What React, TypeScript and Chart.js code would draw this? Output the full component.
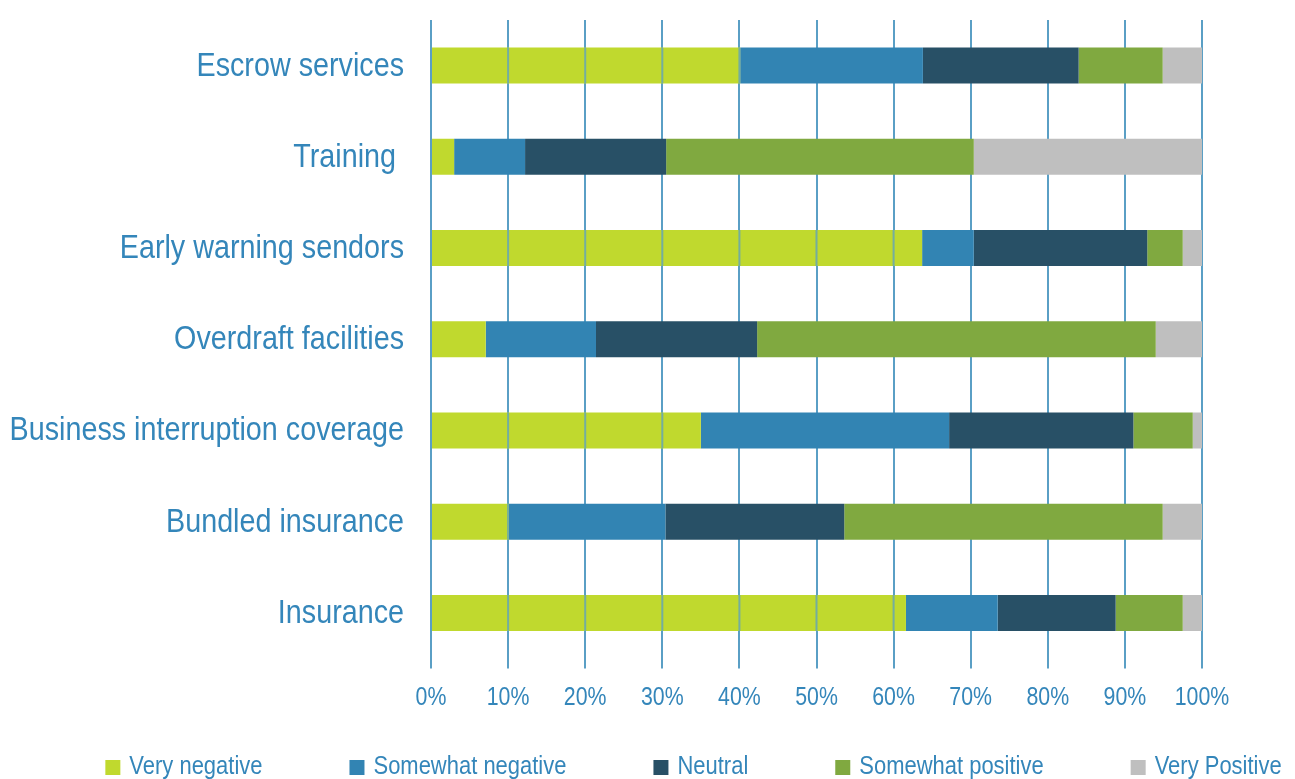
import React, { useEffect, useRef } from "react";
import { Chart, registerables } from "chart.js";

Chart.register(...registerables);

const categories = [
  "Escrow services",
  "Training ",
  "Early warning sendors",
  "Overdraft facilities",
  "Business interruption coverage",
  "Bundled insurance",
  "Insurance",
];
const seriesNames = ["Very negative", "Somewhat negative", "Neutral", "Somewhat positive", "Very Positive"];
const veryNegative = [40.1, 3.0, 63.7, 7.1, 35.0, 10.1, 61.6];
const somewhatNegative = [23.7, 9.2, 6.7, 14.3, 32.2, 20.3, 11.9];
const neutral = [20.2, 18.3, 22.5, 20.9, 23.9, 23.2, 15.3];
const somewhatPositive = [10.9, 39.9, 4.6, 51.7, 7.7, 41.3, 8.7];
const veryPositive = [5.1, 29.6, 2.5, 6.0, 1.2, 5.1, 2.5];
const xTicks = [0, 10, 20, 30, 40, 50, 60, 70, 80, 90, 100];
const xTickLabels = ["0%", "10%", "20%", "30%", "40%", "50%", "60%", "70%", "80%", "90%", "100%"];

const colors = ["#C0D92E", "#3284B3", "#285066", "#80A940", "#BFBFBF"];
const textColor = "#3486BA";
const gridColor = "#5A9FC5";
const BASE_FONT = "'Liberation Sans', Arial, sans-serif";

// Arial-Narrow-like text: Liberation Sans compressed horizontally
function narrowText(ctx: any, text: string, x: number, y: number, size: number, align: string, sx: number) {
  ctx.save();
  ctx.font = `${size}px ${BASE_FONT}`;
  ctx.fillStyle = textColor;
  ctx.textAlign = align;
  ctx.textBaseline = "alphabetic";
  ctx.translate(x, y);
  ctx.scale(sx, 1);
  ctx.fillText(text, 0, 0);
  ctx.restore();
}
function narrowWidth(ctx: any, text: string, size: number, sx: number) {
  ctx.save();
  ctx.font = `${size}px ${BASE_FONT}`;
  const w = ctx.measureText(text).width * sx;
  ctx.restore();
  return w;
}

const limeGridPlugin = {
  id: "limeGrid",
  afterDatasetsDraw(chart: any) {
    const meta = chart.getDatasetMeta(0);
    const xs = chart.scales.x;
    const ctx = chart.ctx;
    meta.data.forEach((bar: any) => {
      const { x, y, base, height } = bar.getProps(["x", "y", "base", "height"], true);
      const left = Math.min(x, base);
      const right = Math.max(x, base);
      ctx.save();
      ctx.beginPath();
      ctx.rect(left, y - height / 2, right - left, height);
      ctx.clip();
      ctx.strokeStyle = "rgba(90,159,197,0.75)";
      ctx.lineWidth = 2;
      xTicks.forEach((t) => {
        const px = xs.getPixelForValue(t);
        ctx.beginPath();
        ctx.moveTo(px, y - height / 2);
        ctx.lineTo(px, y + height / 2);
        ctx.stroke();
      });
      ctx.restore();
    });
  },
};

const labelsPlugin = {
  id: "narrowLabels",
  afterDraw(chart: any) {
    const ctx = chart.ctx;
    const ys = chart.scales.y;
    const xs = chart.scales.x;
    // category labels
    chart.data.labels.forEach((lab: string, i: number) => {
      const py = ys.getPixelForTick(i);
      narrowText(ctx, lab, chart.chartArea.left - 27, py + 10, 34, "right", 0.845);
    });
    // x tick labels
    xTicks.forEach((v, i) => {
      const px = xs.getPixelForValue(v);
      narrowText(ctx, xTickLabels[i], px, 705, 26, "center", 0.82);
    });
    // legend
    const size = 26;
    const sx = 0.845;
    const box = 15;
    const gapBoxText = 9;
    const gap = 87;
    const baseY = 774;
    const items = chart.data.datasets.map((d: any) => ({
      label: d.label,
      color: d.backgroundColor,
      w: box + gapBoxText + narrowWidth(ctx, d.label, size, sx),
    }));
    const total = items.reduce((s: number, it: any) => s + it.w, 0) + gap * (items.length - 1);
    let x = chart.width / 2 - total / 2 + 46;
    items.forEach((it: any) => {
      ctx.save();
      ctx.fillStyle = it.color;
      ctx.fillRect(x, 760, box, box);
      ctx.restore();
      narrowText(ctx, it.label, x + box + gapBoxText, baseY, size, "left", sx);
      x += it.w + gap;
    });
  },
};

export default function App() {
  const ref = useRef<HTMLCanvasElement | null>(null);
  useEffect(() => {
    document.body.style.margin = "0";
    if (!ref.current) return;
    const seriesData = [veryNegative, somewhatNegative, neutral, somewhatPositive, veryPositive];
    const chart = new Chart(ref.current, {
      type: "bar",
      data: {
        labels: categories,
        datasets: seriesNames.map((name, i) => ({
          label: name,
          data: seriesData[i],
          backgroundColor: colors[i],
          borderWidth: 0,
          categoryPercentage: 1,
          barPercentage: 0.395,
        })),
      },
      options: {
        indexAxis: "y",
        animation: false,
        responsive: false,
        devicePixelRatio: 1,
        layout: { padding: { top: 20, bottom: 60.5, left: 0, right: 93 } },
        plugins: { legend: { display: false }, tooltip: { enabled: false } },
        scales: {
          x: {
            stacked: true,
            min: 0,
            max: 100,
            afterBuildTicks: (scale: any) => {
              scale.ticks = xTicks.map((v) => ({ value: v }));
            },
            afterFit: (scale: any) => {
              scale.height = 60;
              scale.paddingLeft = 0;
              scale.paddingRight = 0;
            },
            grid: { color: gridColor, lineWidth: 2, tickLength: 10, drawTicks: true },
            border: { display: false },
            ticks: { display: false },
          },
          y: {
            stacked: true,
            afterFit: (scale: any) => {
              scale.width = 431;
              scale.paddingTop = 0;
              scale.paddingBottom = 0;
            },
            grid: { display: false, drawTicks: false },
            border: { display: false },
            ticks: { display: false },
          },
        },
      },
      plugins: [limeGridPlugin, labelsPlugin],
    });
    return () => chart.destroy();
  }, []);
  return (
    <div style={{ width: 1295, height: 779, position: "relative" }}>
      <canvas ref={ref} width={1295} height={779} style={{ display: "block" }} />
    </div>
  );
}
